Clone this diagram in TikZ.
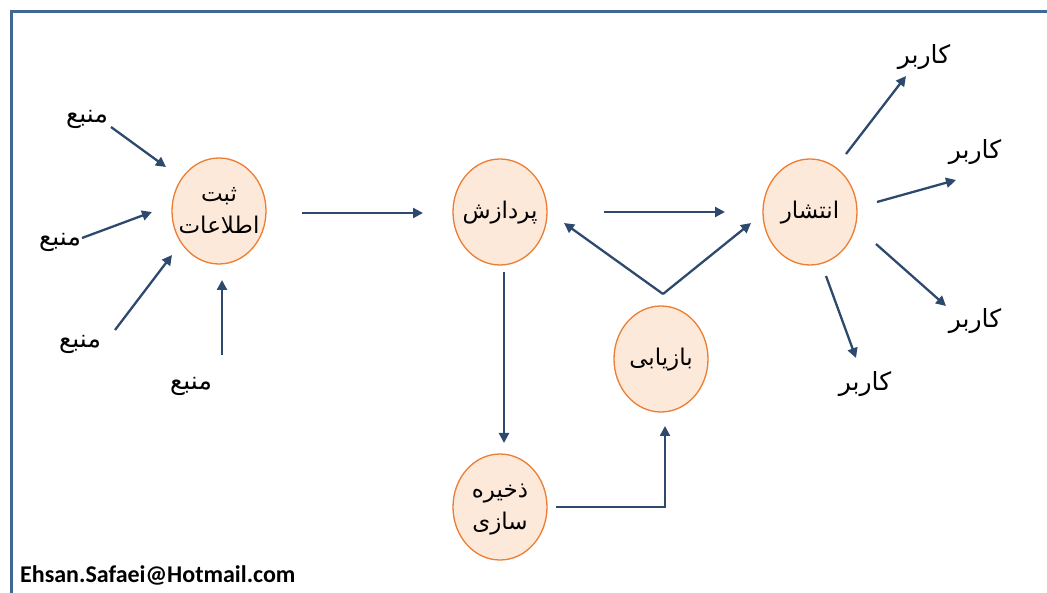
\documentclass[tikz,border=0pt]{standalone}
\usepackage{fontspec}
\setmainfont{Carlito}
\newfontfamily\fafont[Script=Arabic]{DejaVu Sans}
\TeXXeTstate=1
\usetikzlibrary{arrows.meta,shapes.geometric}
\definecolor{bordc}{RGB}{65,103,150}
\definecolor{arrc}{RGB}{45,74,110}
\definecolor{circfill}{RGB}{252,233,218}
\definecolor{circdraw}{RGB}{237,125,49}
\newcommand\fatxt[1]{\beginR #1\endR}
\newcommand\circtxt[1]{\makebox[0pt][c]{\begin{tabular}{@{}c@{}}#1\end{tabular}}}
\begin{document}
\begin{tikzpicture}[x=1pt,y=-1pt,
  circ/.style={ellipse, draw=circdraw, fill=circfill, line width=1.3pt,
    minimum width=94pt, minimum height=106pt, inner sep=0pt,
    font=\fafont\fontsize{23}{32}\selectfont},
  lab/.style={inner sep=0pt, font=\fafont\fontsize{25}{28}\selectfont},
  conn/.style={draw=arrc, line width=2.3pt, -{Triangle[length=10pt,width=10pt]}}]
\useasboundingbox (0,0) rectangle (1047,593);
% frame
\draw[bordc, line width=3pt] (11,593) -- (11,12) -- (1047,12);
% circles
\node[circ] (sabt) at (219,211) {\circtxt{\fatxt{ثبت}\\\fatxt{اطلاعات}}};
\node[circ] (pard) at (500,212) {\circtxt{\fatxt{پردازش}}};
\node[circ] (baz) at (661,359) {\circtxt{\fatxt{بازیابی}}};
\node[circ] (zak) at (500,507) {\circtxt{\fatxt{ذخیره}\\\fatxt{سازی}}};
\node[circ] (ent) at (810,212) {\circtxt{\fatxt{انتشار}}};
% source labels
\node[lab] (m1) at (87,119) {\fatxt{منبع}};
\node[lab] (m2) at (60,242) {\fatxt{منبع}};
\node[lab] (m3) at (80,344) {\fatxt{منبع}};
\node[lab] (m4) at (191,386) {\fatxt{منبع}};
% user labels
\node[lab] (k1) at (924,57) {\fatxt{کاربر}};
\node[lab] (k2) at (975,152) {\fatxt{کاربر}};
\node[lab] (k3) at (975,321) {\fatxt{کاربر}};
\node[lab] (k4) at (865,384) {\fatxt{کاربر}};
% email
\node[anchor=base west, inner sep=0pt, font=\bfseries\fontsize{24}{28}\selectfont] (mail) at (20,582) {Ehsan.Safaei@Hotmail.com};
% connector end points
\coordinate (m1s) at (111,127); \coordinate (m1e) at (166,167);
\coordinate (m2s) at (82,238);  \coordinate (m2e) at (152,212);
\coordinate (m3s) at (115,330); \coordinate (m3e) at (172,255);
\coordinate (m4s) at (222,355); \coordinate (m4e) at (222,280);
\coordinate (sps) at (302,213); \coordinate (spe) at (423,213);
\coordinate (pes) at (604,212); \coordinate (pee) at (725,212);
\coordinate (vb) at (663,294);
\coordinate (vl) at (564,223);  \coordinate (vr) at (751,223);
\coordinate (pzs) at (504,272); \coordinate (pze) at (504,443);
\coordinate (zbs) at (556,507); \coordinate (zbc) at (665,507); \coordinate (zbe) at (665,426);
\coordinate (k1s) at (846,154); \coordinate (k1e) at (906,76);
\coordinate (k2s) at (877,202); \coordinate (k2e) at (956,180);
\coordinate (k3s) at (876,244); \coordinate (k3e) at (946,306);
\coordinate (k4s) at (826,276); \coordinate (k4e) at (856,358);
% connectors
\draw[conn] (m1s) -- (m1e);
\draw[conn] (m2s) -- (m2e);
\draw[conn] (m3s) -- (m3e);
\draw[conn] (m4s) -- (m4e);
\draw[conn] (sps) -- (spe);
\draw[conn] (pes) -- (pee);
\draw[conn] (vb) -- (vl);
\draw[conn] (vb) -- (vr);
\draw[conn] (pzs) -- (pze);
\draw[conn] (zbs) -- (zbc) -- (zbe);
\draw[conn] (k1s) -- (k1e);
\draw[conn] (k2s) -- (k2e);
\draw[conn] (k3s) -- (k3e);
\draw[conn] (k4s) -- (k4e);
\end{tikzpicture}
\end{document}
